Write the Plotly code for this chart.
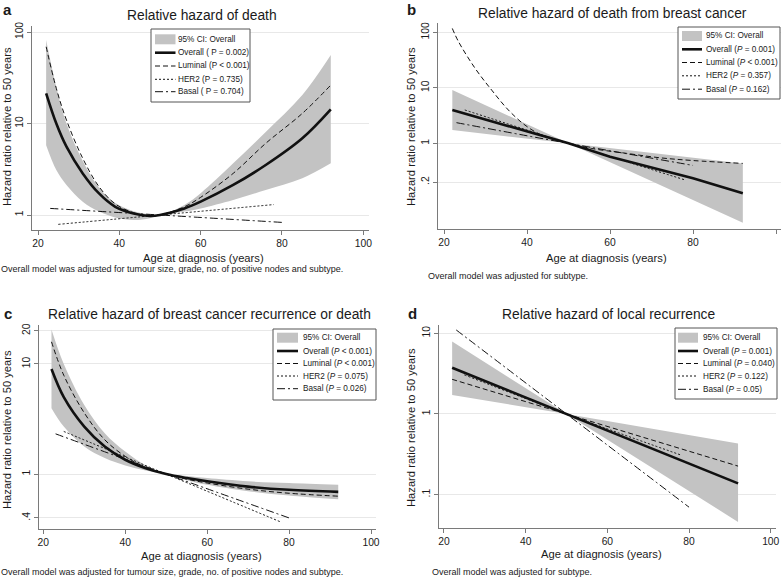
import plotly.graph_objects as go

W, H = 784, 578
FONT = "Liberation Sans, Arial, sans-serif"

# ---------------- DATA ----------------
# Panel a: Relative hazard of death
a_age = [22, 24.5, 27, 31, 35, 39, 43.5, 47.5, 50, 56, 60, 68, 76, 85, 92]
a_overall = [21.4, 10.0, 5.58, 2.85, 1.72, 1.23, 1.04, 0.975, 1.0, 1.18, 1.40, 2.13, 3.52, 6.9, 14.3]
a_ci_up = [82, 25, 10, 3.9, 2.0, 1.35, 1.1, 1.02, 1.0, 1.29, 1.73, 3.67, 8.1, 20.5, 56]
a_ci_lo = [5.8, 3.1, 2.13, 1.4, 1.09, 0.94, 0.88, 0.92, 1.0, 1.09, 1.18, 1.46, 1.88, 2.52, 3.67]
a_lum_age = [22, 24.5, 27, 31, 35, 39, 43.5, 47.5, 50, 56, 60, 68, 76, 85, 92]
a_luminal = [69, 24.2, 10.9, 4.16, 2.04, 1.32, 1.06, 0.975, 1.0, 1.23, 1.56, 2.85, 6.07, 12.9, 26.3]
a_her2_age = [25, 50, 78]
a_her2 = [0.79, 1.0, 1.3]
a_basal_age = [23, 50, 80]
a_basal = [1.18, 1.0, 0.83]

# Panel b: Relative hazard of death from breast cancer
b_age = [22, 40, 50, 60, 80, 92]
b_overall = [4.0, 1.62, 1.0, 0.575, 0.234, 0.126]
b_ci_age = [22, 50, 92]
b_ci_up = [9.2, 1.0, 0.435]
b_ci_lo = [1.74, 1.0, 0.037]
b_lum_age = [22, 23.5, 27.5, 31.5, 35.5, 39.5, 43.5, 50, 55.5, 64, 72, 80, 92]
b_luminal = [118, 68, 22.5, 9.1, 4.0, 2.14, 1.41, 1.0, 0.81, 0.66, 0.55, 0.49, 0.435]
b_her2_age = [25, 50, 78]
b_her2 = [4.0, 1.0, 0.22]
b_basal_age = [23, 50, 80]
b_basal = [2.36, 1.0, 0.40]

# Panel c: Relative hazard of breast cancer recurrence or death
c_age = [22, 25, 30, 35, 40, 45, 50, 55, 60, 70, 80, 92]
c_overall = [9.0, 5.0, 2.7, 1.78, 1.35, 1.13, 1.0, 0.92, 0.86, 0.77, 0.72, 0.69]
c_ci_up = [20.6, 10.0, 4.25, 2.35, 1.6, 1.2, 1.0, 0.96, 0.92, 0.86, 0.83, 0.80]
c_ci_lo = [3.97, 2.7, 1.78, 1.4, 1.2, 1.08, 1.0, 0.88, 0.80, 0.70, 0.64, 0.59]
c_luminal = [15.9, 7.9, 3.6, 2.05, 1.45, 1.15, 1.0, 0.90, 0.83, 0.73, 0.67, 0.63]
c_her2_age = [25, 50, 78]
c_her2 = [2.44, 1.0, 0.367]
c_basal_age = [23, 50, 80]
c_basal = [2.32, 1.0, 0.40]

# Panel d: Relative hazard of local recurrence
d_age = [22, 50, 92]
d_overall = [3.75, 1.0, 0.138]
d_ci_up = [7.9, 1.0, 0.43]
d_ci_lo = [1.72, 1.0, 0.046]
d_luminal = [2.69, 1.0, 0.226]
d_her2_age = [25, 50, 78]
d_her2 = [3.05, 1.0, 0.31]
d_basal_age = [23, 50, 80]
d_basal = [11.0, 1.0, 0.07]

x_ticks = [20, 40, 60, 80, 100]
a_yticks, a_ytext = [1, 10, 100], ["1", "10", "100"]
b_yticks, b_ytext = [0.2, 1, 10, 100], [".2", "1", "10", "100"]
c_yticks, c_ytext = [0.4, 1, 10, 20], [".4", "1", "10", "20"]
d_yticks, d_ytext = [0.1, 1, 10], [".1", "1", "10"]

titles = ["Relative hazard of death",
          "Relative hazard of death from breast cancer",
          "Relative hazard of breast cancer recurrence or death",
          "Relative hazard of local recurrence"]
notes = ["Overall model was adjusted for tumour size, grade, no. of positive nodes and subtype.",
         "Overall model was adjusted for subtype.",
         "Overall model was adjusted for tumour size, grade, no. of positive nodes and subtype.",
         "Overall model was adjusted for subtype."]
legend_texts = [
    ["95% CI: Overall", "Overall ( P = 0.002)", "Luminal (P &lt; 0.001)", "HER2 (P = 0.735)", "Basal ( P = 0.704)"],
    ["95% CI: Overall", "Overall (<i>P</i> = 0.001)", "Luminal (<i>P</i> &lt; 0.001)", "HER2 (<i>P</i> = 0.357)", "Basal (<i>P</i> = 0.162)"],
    ["95% CI: Overall", "Overall (<i>P</i> &lt; 0.001)", "Luminal (<i>P</i> &lt; 0.001)", "HER2 (<i>P</i> = 0.075)", "Basal (<i>P</i> = 0.026)"],
    ["95% CI: Overall", "Overall (<i>P</i> = 0.001)", "Luminal (<i>P</i> = 0.040)", "HER2 (<i>P</i> = 0.122)", "Basal (<i>P</i> = 0.05)"],
]

# ---------------- STYLE ----------------
CI_COL = "#c3c3c3"
LINE_COL = "#111111"
AX_COL = "#7a7a7a"
GRID_COL = "#e8e8e8"
DASH_LUM = "5px,3px"
DASH_HER2 = "2px,2px"
DASH_BASAL = "8px,3px,2px,3px"

def px(x):
    return x / W

def py(y):
    return 1 - y / H

fig = go.Figure()

def add_panel(k, ci_age, ci_up, ci_lo, ov_age, ov, lum_age, lum, her_age, her, bas_age, bas,
              shape, band_shape):
    xa = "x" if k == 1 else f"x{k}"
    ya = "y" if k == 1 else f"y{k}"
    common = dict(xaxis=xa, yaxis=ya, showlegend=False, hoverinfo="skip")
    fig.add_trace(go.Scatter(x=ci_age, y=ci_up, mode="lines",
                             line=dict(width=0, color=CI_COL, shape=band_shape), **common))
    fig.add_trace(go.Scatter(x=ci_age, y=ci_lo, mode="lines", fill="tonexty", fillcolor=CI_COL,
                             line=dict(width=0, color=CI_COL, shape=band_shape), **common))
    fig.add_trace(go.Scatter(x=lum_age, y=lum, mode="lines",
                             line=dict(width=1, color=LINE_COL, dash=DASH_LUM, shape=shape), **common))
    fig.add_trace(go.Scatter(x=her_age, y=her, mode="lines",
                             line=dict(width=1, color=LINE_COL, dash=DASH_HER2, shape="spline"), **common))
    fig.add_trace(go.Scatter(x=bas_age, y=bas, mode="lines",
                             line=dict(width=1, color=LINE_COL, dash=DASH_BASAL, shape="spline"), **common))
    fig.add_trace(go.Scatter(x=ov_age, y=ov, mode="lines",
                             line=dict(width=2.6, color=LINE_COL, shape=band_shape), **common))

add_panel(1, a_age, a_ci_up, a_ci_lo, a_age, a_overall, a_lum_age, a_luminal,
          a_her2_age, a_her2, a_basal_age, a_basal, "spline", "spline")
add_panel(2, b_ci_age, b_ci_up, b_ci_lo, b_age, b_overall, b_lum_age, b_luminal,
          b_her2_age, b_her2, b_basal_age, b_basal, "spline", "linear")
add_panel(3, c_age, c_ci_up, c_ci_lo, c_age, c_overall, c_age, c_luminal,
          c_her2_age, c_her2, c_basal_age, c_basal, "spline", "spline")
add_panel(4, d_age, d_ci_up, d_ci_lo, d_age, d_overall, d_age, d_luminal,
          d_her2_age, d_her2, d_basal_age, d_basal, "linear", "linear")

panels = [
    dict(xd=(32, 369), yd=(26, 230), xr=(18.52, 101.40), yr=(-0.164, 2.066), yt=(a_yticks, a_ytext)),
    dict(xd=(438, 781), yd=(23, 229), xr=(18.55, 101.2), yr=(-1.544, 2.17), yt=(b_yticks, b_ytext)),
    dict(xd=(39, 376), yd=(325, 529), xr=(18.95, 101.22), yr=(-0.4986, 1.354), yt=(c_yticks, c_ytext)),
    dict(xd=(439, 776), yd=(325, 528), xr=(18.78, 101.29), yr=(-1.413, 1.103), yt=(d_yticks, d_ytext)),
]

layout = dict(
    width=W, height=H, margin=dict(l=0, r=0, t=0, b=0, autoexpand=False),
    paper_bgcolor="white", plot_bgcolor="white",
    font=dict(family=FONT, color="#1a1a1a", size=10),
)
for i, p in enumerate(panels, start=1):
    sx = "" if i == 1 else str(i)
    layout["xaxis" + sx] = dict(
        domain=[px(p["xd"][0]), px(p["xd"][1])], range=list(p["xr"]),
        anchor="y" + sx, showgrid=False, zeroline=False, automargin=False,
        showline=True, linecolor=AX_COL, linewidth=1,
        ticks="outside", ticklen=4, tickcolor=AX_COL, tickwidth=1,
        tickvals=x_ticks, ticktext=[str(v) for v in x_ticks],
        tickfont=dict(size=10.3), fixedrange=True,
    )
    layout["yaxis" + sx] = dict(
        domain=[py(p["yd"][1]), py(p["yd"][0])], range=list(p["yr"]), type="log",
        anchor="x" + sx, showgrid=True, gridcolor=GRID_COL, gridwidth=1, zeroline=False,
        automargin=False,
        showline=True, linecolor=AX_COL, linewidth=1,
        ticks="outside", ticklen=4, tickcolor=AX_COL, tickwidth=1,
        tickvals=p["yt"][0], ticktext=p["yt"][1], tickangle=-90,
        tickfont=dict(size=10.3), fixedrange=True,
    )
fig.update_layout(**layout)

ann = []
shapes = []

def text(x, y, s, size, xanchor="center", **kw):
    d = dict(x=px(x), y=py(y), xref="paper", yref="paper", text=s, showarrow=False,
             xanchor=xanchor, yanchor="middle", borderpad=0,
             font=dict(size=size, family=FONT, color="#1a1a1a"))
    d.update(kw)
    ann.append(d)

# panel letters
for (lx, ly), s in zip([(7, 9), (411, 9), (8, 313), (412, 313)], ["a", "b", "c", "d"]):
    text(lx, ly, "<b>" + s + "</b>", 15)

# titles
for (tx, ty), s in zip([(202, 16), (612, 13.5), (209, 314), (609, 314)], titles):
    text(tx, ty, s, 13.8)

# x-axis titles
for (tx, ty) in [(203, 258), (606, 257.5), (201, 555.5), (601, 554)]:
    text(tx, ty, "Age at diagnosis (years)", 11.2)

# y-axis titles
for (tx, ty) in [(7, 127), (411, 127), (7, 430), (411, 428)]:
    text(tx, ty, "Hazard ratio relative to 50 years", 11.2, textangle=-90)

# notes
for (nx, ny), s in zip([(0, 268.5), (427, 276), (0, 572), (431, 571.5)], notes):
    text(nx, ny, s, 9, xanchor="left")

# legends (drawn as boxes)
legends = [
    dict(box=(151, 29, 250, 102), rows=[39.3, 52.7, 66, 79.3, 91.7], sx=(155, 175.5), tx=177),
    dict(box=(678, 27, 780, 99), rows=[36, 49.3, 62.5, 75.8, 89.2], sx=(682, 702), tx=705),
    dict(box=(273, 329, 376, 400), rows=[337.7, 351, 363.5, 376, 388.7], sx=(277, 298), tx=301.5),
    dict(box=(675, 328, 777, 399), rows=[337.7, 351, 363.5, 376, 389.3], sx=(678, 698), tx=702),
]
for lg, texts in zip(legends, legend_texts):
    x0, y0, x1, y1 = lg["box"]
    shapes.append(dict(type="rect", xref="paper", yref="paper",
                       x0=px(x0), y0=py(y1), x1=px(x1), y1=py(y0),
                       line=dict(color="#555555", width=1), fillcolor="white", layer="above"))
    r = lg["rows"]
    s0, s1 = lg["sx"]
    shapes.append(dict(type="rect", xref="paper", yref="paper",
                       x0=px(s0), x1=px(s1), y0=py(r[0] + 5), y1=py(r[0] - 5),
                       line=dict(width=0), fillcolor=CI_COL, layer="above"))
    styles = [(2.6, "solid"), (1, DASH_LUM), (1, DASH_HER2), (1, DASH_BASAL)]
    for (w, dsh), yy in zip(styles, r[1:]):
        shapes.append(dict(type="line", xref="paper", yref="paper",
                           x0=px(s0), x1=px(s1), y0=py(yy), y1=py(yy),
                           line=dict(color=LINE_COL, width=w, dash=dsh), layer="above"))
    for s, yy in zip(texts, r):
        text(lg["tx"], yy, s, 8.2, xanchor="left")

fig.update_layout(annotations=ann, shapes=shapes)
fig.write_html("out.html", config={"displayModeBar": False, "staticPlot": True},
               post_script="document.body.style.margin='0px';document.body.style.overflow='hidden';")
